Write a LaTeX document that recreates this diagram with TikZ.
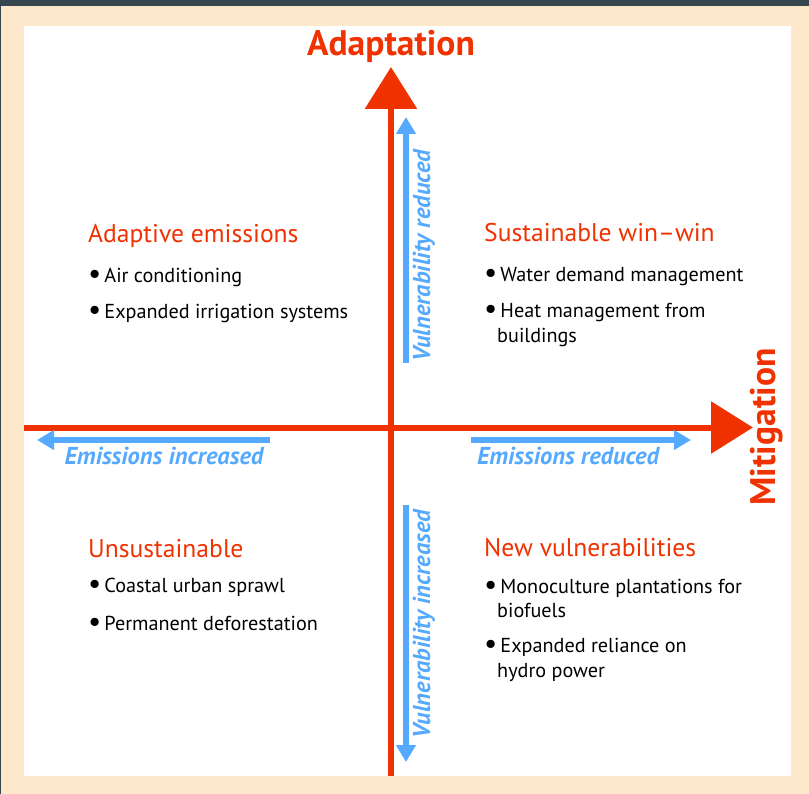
\documentclass[tikz,border=0pt]{standalone}
\usepackage{fontspec}
\setmainfont{PT Sans}
\usetikzlibrary{arrows.meta}
\definecolor{axisred}{HTML}{F03200}
\definecolor{dirblue}{HTML}{55AAFF}
\definecolor{framecream}{HTML}{FFE9CC}
\definecolor{topbar}{HTML}{37474F}
\newcommand{\qbullet}{\raisebox{-1pt}{\scalebox{1.45}{\textbullet}}\hspace{3pt}}
\tikzset{
  axis/.style={draw=axisred, line width=6pt, -{Triangle[width=51pt,length=42pt]}},
  axislabel/.style={text=axisred, font=\fontsize{35.5}{38}\selectfont\bfseries, inner sep=0pt},
  dirarrow/.style={draw=dirblue, line width=5.5pt, -{Triangle[width=19pt,length=17pt]}},
  dirlabel/.style={text=dirblue, font=\fontsize{24.5}{26}\selectfont\bfseries\itshape, inner sep=0pt},
  quadtitle/.style={text=axisred, font=\fontsize{25.6}{28}\selectfont, anchor=base west, inner sep=0pt},
  quaditem/.style={text=black, font=\fontsize{20.2}{24}\selectfont, anchor=base west, inner sep=0pt}
}
\begin{document}
\begin{tikzpicture}[x=1pt,y=-1pt]
\useasboundingbox (0,0) rectangle (809,794);
% frame
\fill[topbar] (0,0) rectangle (809,794);
\fill[framecream] (1,6) rectangle (809,794);
\fill[white] (24,26) rectangle (791,776);

% axes
\coordinate (ybot) at (391,776);
\coordinate (ytop) at (391,67);
\coordinate (xleft) at (24,427.5);
\coordinate (xright) at (753,427.5);
\draw[axis] (xleft) -- (xright);
\draw[axis] (ybot) -- (ytop);
\node[axislabel] (adapt) at (391,46) {Adaptation};
\node[axislabel, rotate=90] (mitig) at (767,427) {Mitigation};

% direction arrows
\coordinate (eifrom) at (270,440);
\coordinate (eito) at (37,440);
\coordinate (erfrom) at (471,440);
\coordinate (erto) at (691,440);
\coordinate (vrfrom) at (406,363);
\coordinate (vrto) at (406,117);
\coordinate (vifrom) at (406,505);
\coordinate (vito) at (406,762);
\draw[dirarrow] (eifrom) -- (eito);
\draw[dirarrow] (erfrom) -- (erto);
\draw[dirarrow] (vrfrom) -- (vrto);
\draw[dirarrow] (vifrom) -- (vito);
\node[dirlabel] (eilabel) at (164,456) {Emissions increased};
\node[dirlabel] (erlabel) at (568,456) {Emissions reduced};
\node[dirlabel, rotate=90] (vrlabel) at (424,256) {Vulnerability reduced};
\node[dirlabel, rotate=90] (vilabel) at (424,624) {Vulnerability increased};

% quadrants
\node[quadtitle] (ae) at (88,243) {Adaptive emissions};
\node[quaditem] (ae1) at (88,283) {\qbullet Air conditioning};
\node[quaditem] (ae2) at (88,319) {\qbullet Expanded irrigation systems};

\node[quadtitle] (sw) at (484,242) {Sustainable win–win};
\node[quaditem] (sw1) at (484,282) {\qbullet Water demand management};
\node[quaditem] (sw2) at (484,318) {\qbullet Heat management from};
\node[quaditem] (sw2b) at (497,343) {buildings};

\node[quadtitle] (un) at (88,557) {Unsustainable};
\node[quaditem] (un1) at (88,592) {\qbullet Coastal urban sprawl};
\node[quaditem] (un2) at (88,630) {\qbullet Permanent deforestation};

\node[quadtitle] (nv) at (484,556) {New vulnerabilities};
\node[quaditem] (nv1) at (484,593) {\qbullet Monoculture plantations for};
\node[quaditem] (nv1b) at (497,617) {biofuels};
\node[quaditem] (nv2) at (484,652) {\qbullet Expanded reliance on};
\node[quaditem] (nv2b) at (497,677) {hydro power};
\end{tikzpicture}
\end{document}
